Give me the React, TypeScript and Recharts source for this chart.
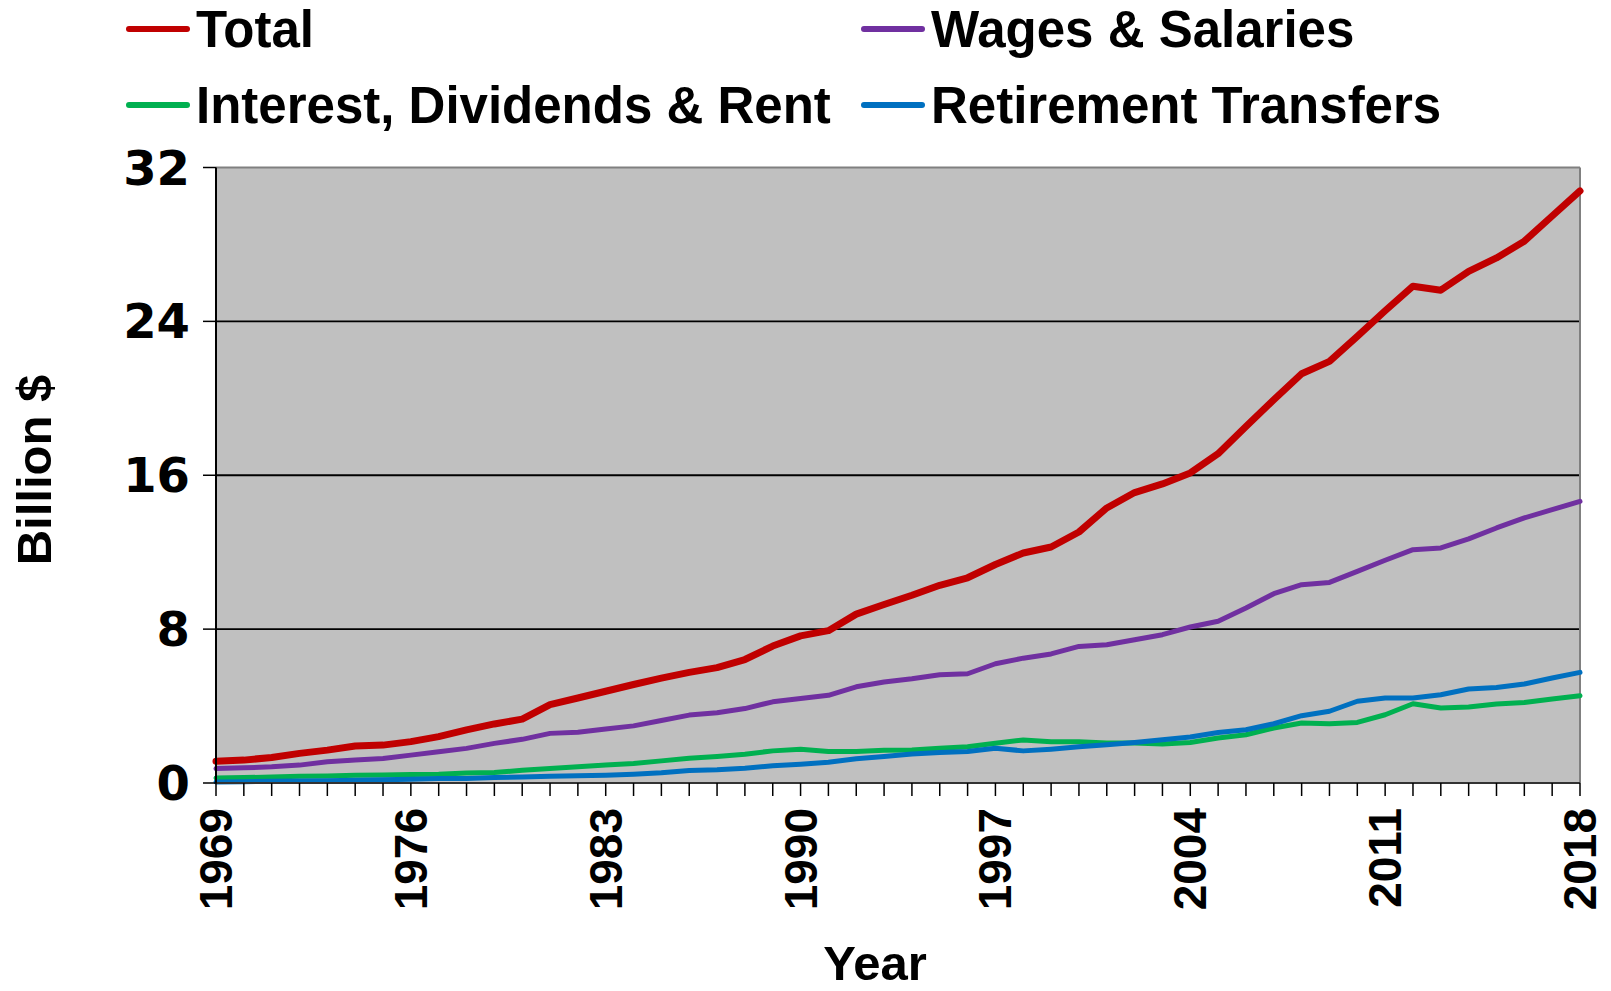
import React from 'react';
import { LineChart, Line, XAxis, YAxis, CartesianGrid, ReferenceLine } from 'recharts';

const years = [
  1969, 1970, 1971, 1972, 1973, 1974, 1975, 1976, 1977, 1978,
  1979, 1980, 1981, 1982, 1983, 1984, 1985, 1986, 1987, 1988,
  1989, 1990, 1991, 1992, 1993, 1994, 1995, 1996, 1997, 1998,
  1999, 2000, 2001, 2002, 2003, 2004, 2005, 2006, 2007, 2008,
  2009, 2010, 2011, 2012, 2013, 2014, 2015, 2016, 2017, 2018,
];

const total = [
  1.13, 1.19, 1.33, 1.54, 1.71, 1.92, 1.97, 2.15, 2.41, 2.76,
  3.07, 3.32, 4.07, 4.42, 4.77, 5.12, 5.45, 5.75, 6.0, 6.42,
  7.12, 7.65, 7.92, 8.78, 9.28, 9.76, 10.28, 10.67, 11.36, 11.96,
  12.27, 13.05, 14.3, 15.1, 15.55, 16.12, 17.12, 18.54, 19.93, 21.28,
  21.92, 23.22, 24.55, 25.83, 25.62, 26.6, 27.3, 28.17, 29.48, 30.78,
];

const wages = [
  0.75, 0.79, 0.84, 0.93, 1.1, 1.19, 1.27, 1.45, 1.62, 1.8,
  2.06, 2.27, 2.58, 2.64, 2.81, 2.97, 3.25, 3.53, 3.65, 3.87,
  4.22, 4.39, 4.56, 5.0, 5.25, 5.42, 5.63, 5.68, 6.2, 6.49,
  6.71, 7.1, 7.19, 7.45, 7.71, 8.11, 8.41, 9.1, 9.84, 10.31,
  10.43, 11.0, 11.58, 12.13, 12.22, 12.69, 13.26, 13.78, 14.21, 14.64,
];

const interest = [
  0.26, 0.28, 0.31, 0.35, 0.37, 0.4, 0.42, 0.44, 0.45, 0.52,
  0.54, 0.66, 0.75, 0.84, 0.93, 1.01, 1.15, 1.29, 1.38, 1.5,
  1.67, 1.76, 1.64, 1.64, 1.7, 1.72, 1.81, 1.89, 2.07, 2.24,
  2.15, 2.15, 2.08, 2.08, 2.03, 2.11, 2.34, 2.51, 2.86, 3.12,
  3.08, 3.15, 3.55, 4.12, 3.9, 3.95, 4.11, 4.19, 4.37, 4.54,
];

const retirement = [
  0.05, 0.07, 0.09, 0.1, 0.12, 0.14, 0.17, 0.19, 0.23, 0.24,
  0.28, 0.31, 0.35, 0.38, 0.4, 0.45, 0.53, 0.65, 0.69, 0.77,
  0.9, 0.98, 1.08, 1.26, 1.38, 1.51, 1.58, 1.64, 1.81, 1.67,
  1.76, 1.88, 1.99, 2.11, 2.25, 2.39, 2.63, 2.77, 3.08, 3.5,
  3.73, 4.25, 4.42, 4.42, 4.59, 4.89, 4.97, 5.15, 5.46, 5.75,
];

const yTicks = [0, 8, 16, 24, 32];
const gridValues = [8, 16, 24];
const xTickLabels = [1969, 1976, 1983, 1990, 1997, 2004, 2011, 2018];

const seriesNames = ['Total', 'Wages & Salaries', 'Interest, Dividends & Rent', 'Retirement Transfers'];
const seriesKeys = ['total', 'wages', 'interest', 'retirement'];
const seriesColors = ['#C00000', '#7030A0', '#00B050', '#0070C0'];
const seriesWidths = [7, 5, 5, 5];

const data = years.map((year, i) => ({
  year,
  total: total[i],
  wages: wages[i],
  interest: interest[i],
  retirement: retirement[i],
}));

const LABEL_FONT = '"Liberation Sans", Arial, sans-serif';
const TICK_FONT = '"DejaVu Sans", Verdana, sans-serif';

const XTick = (props: any) => {
  const { x, y, payload } = props;
  if (!xTickLabels.includes(payload.value)) return <g />;
  return (
    <g transform={`translate(${x},${y})`}>
      <text
        transform="rotate(-90)"
        textAnchor="end"
        dominantBaseline="central"
        fontFamily={LABEL_FONT}
        fontWeight="bold"
        fontSize={46}
        fill="#000"
      >
        {payload.value}
      </text>
    </g>
  );
};

const YTick = (props: any) => {
  const { x, y, payload } = props;
  return (
    <text
      x={x}
      y={y}
      textAnchor="end"
      dominantBaseline="central"
      fontFamily={TICK_FONT}
      fontWeight="bold"
      fontSize={48}
      fill="#000"
    >
      {payload.value}
    </text>
  );
};

const legendCols = [118, 853];
const legendRows = [29, 105];

export default function App() {
  return (
    <div style={{ position: 'relative', width: 1600, height: 983 }}>
      <LineChart
        width={1600}
        height={991}
        data={data}
        margin={{ top: 159.5, right: 28, left: 0, bottom: 8 }}
      >
        <CartesianGrid
          vertical={false}
          horizontal
          horizontalValues={gridValues}
          fill="#C0C0C0"
          fillOpacity={1}
          stroke="#000"
          strokeWidth={1.8}
        />
        <XAxis
          dataKey="year"
          type="number"
          domain={[1969, 2018]}
          ticks={years}
          interval={0}
          allowDecimals={false}
          height={208}
          tickSize={13}
          tickMargin={12}
          axisLine={{ stroke: '#333', strokeWidth: 2 }}
          tickLine={{ stroke: '#000', strokeWidth: 1.5 }}
          tick={XTick}
          label={{
            content: () => (
              <text
                x={867}
                y={972}
                textAnchor="middle"
                fontFamily={LABEL_FONT}
                fontWeight="bold"
                fontSize={49}
                fill="#000"
              >
                Year
              </text>
            ),
          }}
        />
        <YAxis
          type="number"
          domain={[0, 32]}
          ticks={yTicks}
          interval={0}
          width={208}
          tickSize={13}
          tickMargin={13}
          axisLine={{ stroke: '#000', strokeWidth: 2 }}
          tickLine={{ stroke: '#000', strokeWidth: 1.5 }}
          tick={YTick}
          label={{
            content: () => (
              <text
                x={43}
                y={462}
                transform="rotate(-90, 43, 462)"
                textAnchor="middle"
                fontFamily={LABEL_FONT}
                fontWeight="bold"
                fontSize={49}
                fill="#000"
              >
                Billion $
              </text>
            ),
          }}
        />
        <ReferenceLine y={32} stroke="#808080" strokeWidth={2} ifOverflow="extendDomain" />
        <ReferenceLine x={2018} stroke="#808080" strokeWidth={2} />
        {seriesKeys.map((k, i) => (
          <Line
            key={k}
            type="linear"
            dataKey={k}
            name={seriesNames[i]}
            stroke={seriesColors[i]}
            strokeWidth={seriesWidths[i]}
            strokeLinecap="round"
            strokeLinejoin="round"
            dot={false}
            activeDot={false}
            isAnimationActive={false}
          />
        ))}
      </LineChart>
      <svg
        width={1600}
        height={150}
        style={{ position: 'absolute', left: 0, top: -8, pointerEvents: 'none', overflow: 'visible' }}
      >
        {seriesNames.map((name, i) => {
          const cx = legendCols[i % 2];
          const cy = legendRows[Math.floor(i / 2)];
          return (
            <g key={name}>
              <line
                x1={cx + 3}
                x2={cx + 61}
                y1={cy}
                y2={cy}
                stroke={seriesColors[i]}
                strokeWidth={6}
                strokeLinecap="round"
              />
              <text
                x={cx + 70}
                y={cy + 18}
                fontFamily={LABEL_FONT}
                fontWeight="bold"
                fontSize={51}
                fill="#000"
              >
                {name}
              </text>
            </g>
          );
        })}
      </svg>
    </div>
  );
}
